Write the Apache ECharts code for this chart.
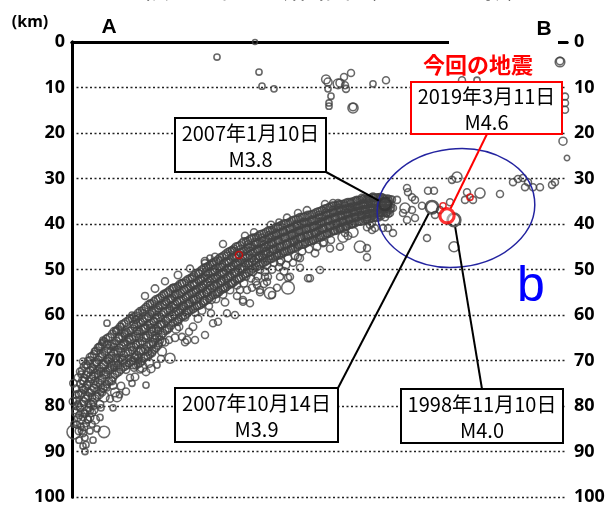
<!DOCTYPE html>
<html><head><meta charset="utf-8">
<script src="https://cdn.jsdelivr.net/npm/echarts/dist/echarts.min.js"></script>
<style>html,body{margin:0;padding:0;background:#fff}#c{width:609px;height:507px}</style>
</head><body><div id="c"></div>
<script>
// ---- data: [distance along A-B (arbitrary km), depth km, magnitude] ----
const depthTicks = [0,10,20,30,40,50,60,70,80,90,100];
const slabDeep = [
[0.3,75,2],[0.8,77.5,1.8],[0.2,79,2],[1.2,79.5,1.5],[0.6,81,1.5],[1.5,82,2],[0.4,84,1.5],[0.4,85.7,4.5],[1.8,84.5,1.5],[2.2,86,1.8],[1.4,87.5,1.5],[2.6,87,1.5],[2.2,88.8,1.5],[2.8,88.5,1.5],[2.6,90,1.5],
[1.8,73,1.5],[2.4,74.5,2],[2,76,1.8],[3,75.5,2],[2.6,78,2.5],[3.4,77,1.8],[3.2,79.5,1.5],[4,78,2],[3.6,81,1.8],[4.4,80,1.5],[2.4,81.5,1.5],[3.2,83,1.8],[4,84,1.5],[4.6,83,2.5],[5,85,1.5],[3.6,85.5,1.5],[4.2,87.5,1.5],[6.4,85.7,3.5],[5.6,82.5,1.5],[5.8,80.4,1.5],
[3,71,1.5],[3.6,70,2],[2.2,70.2,1.8],[4.2,72,2],[4.8,70.5,1.5],[3.8,73.5,2.5],[4.6,74.5,2],[5.2,73,1.8],[5.6,75,2],[5,76.5,1.5],[6,77,2],[6.4,78,3],[7,76,1.5],[4.5,68,1.5],[5.4,67,1.8],[6,69,2],[6.4,71,2.5],[5.8,72.5,2],[6.8,73,1.8],[7.2,70,1.5],[7.6,72,2],[8,74.5,2],[8.6,77,2.5],[9,78,2.8],[9.5,77.5,1.5],[8.2,75.5,2],[8.2,80.4,1.5],
[6.2,65.5,1.5],[7,66.5,2],[7,61.8,1.5],[7.8,68,2],[8.4,67,1.8],[8.8,69.5,2],[9.2,71,2],[8.4,71.5,1.5],[9.8,68,2],[10.2,70,2.5],[10.8,72,2],[11.2,69.5,1.5],[10.4,66,1.8],[9.4,65,2],[8.8,63.5,1.5],[9.8,62.5,1.5],[10.6,64,2],[11.4,65,2],[11.8,67,2],[12.2,71,2],[12.6,69,1.5],[12.8,66.5,1.8],[6,66,1.5],[12,75,1.5]
];
const slabDeepFill = [
[0.8,76.2,2],[0.9,78.8,1.8],[0.7,81.5,2],[1.0,84.1,1.8],
[1.6,72.4,1.8],[1.7,75.1,2],[1.5,77.6,2.2],[1.6,80.3,1.8],[1.8,83,2],
[2.4,71.3,2],[2.5,73.8,1.8],[2.3,76.4,2],[2.4,79,2],[2.6,81.7,1.8],[2.4,84.6,2],
[3.2,70.1,2],[3.3,72.6,2.2],[3.1,75.2,1.8],[3.2,77.8,2],[3.4,80.4,2],[3.2,82.9,1.8],
[4.0,69,2],[4.1,71.5,1.8],[3.9,74,2],[4.0,76.6,2.2],[4.2,79.1,1.8],[4.0,81.5,2],
[4.8,67.9,2],[4.9,70.4,2],[4.7,72.9,2.5],[4.8,75.4,1.8],[5.0,77.9,2],
[5.6,66.9,1.8],[5.7,69.3,2],[5.5,71.8,2],[5.6,74.3,2.2],[5.8,76.8,1.8],
[6.4,65.9,2],[6.5,68.3,1.8],[6.3,70.8,2],[6.4,73.2,2],[6.6,75.7,2],
[7.2,65,2],[7.3,67.4,2.2],[7.1,69.8,2],[7.2,72.2,1.8],[7.4,74.6,2],
[8.0,64.2,2],[8.1,66.5,2],[7.9,68.9,1.8],[8.0,71.3,2.2],[8.2,73.7,2],
[8.8,63.4,1.8],[8.9,65.7,2],[8.7,68.1,2],[8.8,70.5,2],[9.0,72.8,1.8],
[9.6,62.6,2],[9.7,64.9,2.2],[9.5,67.3,2],[9.6,69.7,1.8],[9.8,72,2],
[10.4,61.9,2],[10.5,64.2,1.8],[10.3,66.6,2],[10.4,68.9,2.2],[10.6,71.3,2],
[11.2,61.2,1.8],[11.3,63.5,2],[11.1,65.9,2],[11.2,68.2,2],[11.4,70.6,1.8],
[12.0,60.8,2],[12.1,63,2],[11.9,65.3,2.2],[12.0,67.7,1.8],[12.2,70,2]
];
const slabMid = [
[12,60,1.5],[12.4,62,2],[13,63.5,2],[12.8,61,1.8],[13.4,65,2],[13.8,67.5,2.5],[13.2,69.5,2],[13.6,72,1.8],[14.2,61.5,2],[14.6,63,2.2],[14.2,59.5,1.5],[14.8,65,2],[15.2,68,2],[15.4,70.5,2.5],[14.8,72.5,2],[14,71.4,3],[13.4,70,1.5],[14.8,75.4,1.5],
[15.6,57.5,1.8],[16,59.5,2],[16.4,61.5,2],[15.8,63,2.5],[16.6,64.5,2],[16.2,66.5,1.8],[16,68.4,1.8],[17,60,2],[17.4,58,1.5],[17.8,62,2],[17.2,63.5,2],[17.6,65.5,2],[17.4,66.2,1.8],[18,68,2.5],[17,71,1.5],[18.6,66,2],[19,63,2],[19.2,61,2],[19.6,59,2],[18.8,57,2],[18.4,55.5,1.8],[19.8,56.5,2],[19.6,69.5,3],[19.4,65.5,1.8],
[20.2,54,1.8],[20.6,55.5,2],[21,57,2],[20.4,58.5,2],[21.4,59.5,2],[21.2,61.5,2],[20.8,63,2.5],[22,53,2],[22.4,54.5,2],[22.8,56,2],[22.2,58,2.2],[23,59,2],[22.6,60.5,2],[23.4,57.5,2],[24,52,1.8],[24.4,53.5,2],[24.8,55,2],[24.2,56.5,2],[25,58,2],[24.6,59.5,1.8],[25.4,51,2],[25.8,52.5,2],[26.2,54,2],[25.6,55.5,2],[26.4,57,2.2],[26,59,2],[26.8,50.5,2],[27.2,52,2],[27.6,53.5,2],[27,55,2],[27.8,56.5,2.5],[27.4,58,1.8],
[28.2,49,2],[28.6,50.5,2],[29,52,2],[28.4,53.5,2],[29.2,55,2],[28.8,56.5,2],[29.6,48,1.8],[30,49.5,2],[30.4,51,2],[29.8,52.5,2],[30.6,54,2],[30.2,55.5,2],[31,47,2],[31.4,48.5,2],[31.8,50,2],[31.2,51.5,2],[32,53,2],[31.6,54.5,2],[32.4,46,2],[32.8,47.5,2],[33.2,49,2],[32.6,50.5,2],[33.4,52,2],[33,53.5,1.8],[33.8,45.5,2],[34.2,47,2],[34.6,48.5,2],[34,50,2],[34.8,51.5,2],[34.4,53,2],[30.2,44.4,1.8],[32,45.7,1.8],[26.6,48.6,1.8],[27.6,47.5,1.5]
];
const slabMidFill = [
[12.4,60.4,2],[12.5,62.6,1.8],[12.3,64.9,2],[12.4,67.1,2.2],[12.6,69.4,2],[12.4,71.6,1.8],
[13.2,59.6,2],[13.3,61.8,2],[13.1,64.1,1.8],[13.2,66.3,2],[13.4,68.2,2.2],[13.2,70.8,2],
[14.0,59,1.8],[14.1,61.2,2],[13.9,63.3,2],[14.0,65.7,2],[14.2,67.9,1.8],[14.0,70.1,2],
[14.8,58.3,2],[14.9,60.6,2.2],[14.7,62.8,2],[14.8,64.6,1.8],[15.0,66.9,2],[14.8,69.2,2],
[15.6,57.6,2],[15.7,59.8,1.8],[15.5,62,2],[15.6,64.2,2],[15.8,66.4,2.2],[15.6,68.6,1.8],
[16.4,57,2],[16.5,59.1,2],[16.3,61.3,1.8],[16.4,63.5,2],[16.6,65.4,2],[16.4,67.6,2],
[17.2,56.4,1.8],[17.3,58.5,2],[17.1,60.7,2.2],[17.2,62.6,2],[17.4,64.8,1.8],[17.2,66.7,2],
[18.0,55.8,2],[18.1,57.8,2],[17.9,59.9,2],[18.0,62.1,1.8],[18.2,64,2],[18.0,65.9,2.2],
[18.8,55.2,2],[18.9,57.2,1.8],[18.7,59.3,2],[18.8,61.3,2],[19.0,63.3,2],
[19.6,54.6,2.2],[19.7,56.6,2],[19.5,58.6,1.8],[19.6,60.4,2],[19.8,62.3,2],
[20.4,54,2],[20.5,55.9,2],[20.3,57.8,2],[20.4,59.8,2.2],[20.6,61.6,1.8],
[21.2,53.6,1.8],[21.3,55.4,2],[21.1,57.2,2],[21.2,59.1,2],[21.4,60.9,2],
[22.0,53.1,2],[22.1,54.9,2.2],[21.9,56.8,2],[22.0,58.6,1.8],[22.2,60.3,2],
[22.8,52.5,2],[22.9,54.3,2],[22.7,56.1,1.8],[22.8,57.9,2],[23.0,59.6,2.2],
[23.6,51.9,1.8],[23.7,53.7,2],[23.5,55.5,2],[23.6,57.2,2],[23.8,58.9,2],
[24.4,51.3,2],[24.5,53.1,2],[24.3,54.9,2.2],[24.4,56.7,2],[24.6,58.4,1.8],
[25.2,50.7,2],[25.3,52.5,1.8],[25.1,54.3,2],[25.2,56.1,2],[25.4,57.9,2],
[26.0,50.1,2.2],[26.1,51.9,2],[25.9,53.7,2],[26.0,55.5,1.8],[26.2,57.3,2],
[26.8,49.5,2],[26.9,51.3,2],[26.7,53.1,2],[26.8,54.9,2.2],[27.0,56.7,2],
[27.6,48.9,1.8],[27.7,50.7,2],[27.5,52.5,2],[27.6,54.3,2],[27.8,56,1.8],
[28.4,48.4,2],[28.5,50.1,2.2],[28.3,51.9,2],[28.4,53.7,2],[28.6,55.5,2],
[29.2,47.8,2],[29.3,49.6,2],[29.1,51.4,1.8],[29.2,53.1,2],[29.4,54.9,2.2],
[30.0,47.2,2],[30.1,49,1.8],[29.9,50.8,2],[30.0,52.6,2],[30.2,54.3,2],
[30.8,46.6,2.2],[30.9,48.4,2],[30.7,50.2,2],[30.8,52,2],[31.0,53.8,1.8],
[31.6,46,2],[31.7,47.8,2],[31.5,49.6,2.2],[31.6,51.4,2],[31.8,53.2,2],
[32.4,45.4,1.8],[32.5,47.2,2],[32.3,49,2],[32.4,50.8,2],[32.6,52.6,2],
[33.2,44.9,2],[33.3,46.7,2.2],[33.1,48.4,2],[33.2,50.2,1.8],[33.4,52,2],
[34.0,44.3,2],[34.1,46.1,2],[33.9,47.9,2],[34.0,49.6,2.2],[34.2,51.4,2],
[34.8,43.8,1.8],[34.9,45.6,2],[34.7,47.3,2],[34.8,49,2],[35.0,50.8,2]
];
const slabUpper = [
[35.2,44.5,2],[35.6,46,2],[36,47.5,2],[35.4,49,2],[36.2,50.5,2],[35.8,52,1.8],[36.6,44,2],[37,45.5,2],[37.4,47,2],[36.8,48.5,2],[37.6,50,2],[37.2,51.5,2],[38,43,2],[38.4,44.5,2],[38.8,46,2],[38.2,47.5,2],[39,49,2],[38.6,50.5,2],[39.4,42.5,2],[39.8,44,2],[40.2,45.5,2],[39.6,47,2],[40.4,48.5,2],[40,50,2],[40.8,42,2],[41.2,43.5,2],[41.6,45,2],[41,46.5,2],[41.8,48,2],[41.4,49.5,1.8],[42.2,41.5,2],[42.6,43,2],[43,44.5,2],[42.4,46,2],[43.2,47.5,2],[42.8,49,2],[43.6,41,2],[44,42.5,2],[44.4,44,2],[43.8,45.5,2],[44.6,47,2],[44.2,48.5,1.8],[45,40,2],[45.4,41.5,2],[45.8,43,2],[45.2,44.5,2],[46,46,2],[45.6,47.5,1.8],[46.4,39.5,2],[46.8,41,2],[47.2,42.5,2],[46.6,44,2],[47.4,45.5,2],[48,39,2],[48.4,40.5,2],[48.8,42,2],[48.2,43.5,2],[49,45,2],[49.4,38,2],[49.8,39.5,2],[50.2,41,2],[49.6,42.5,2],[50.4,44,2],[50.8,37.5,2],[51.2,39,2],[51.6,40.5,2],[51,42,2],[51.8,43.5,1.8],[52.2,37,2],[52.6,38.5,2],[53,40,2],[52.4,41.5,2],[53.4,36.5,2],[53.8,38,2],[54.2,39.5,2],[53.6,41,2],[54.6,36,2],[55,37.5,2],[55.4,39,2],[54.8,40.5,2],[55.8,35.5,2],[56.2,37,2],[56.6,38.5,2],[56,40,1.8],[57,35,2],[57.4,36.5,2],[57.8,38,2],[58.2,35.5,2],[58.6,37,2],[59,38.5,2],[59.4,35,2],[59.8,36.5,2.5],[60.2,38,2],[60.6,35.5,2],[61,37,2],[61.6,34.5,2],[62,36,2],[61.4,38,1.8],[62.8,37.5,2],[63.4,35,2],[63.8,36.5,2],
[45.2,37.6,1.8],[52.2,35.4,1.8],[53.2,35.4,1.8],[55.6,36.3,1.8],[58,34.3,2],[59,34.7,2],[60.2,34,2],[62,34.3,2.5],[63,37.6,1.8],[61.6,37.6,1.8],[59,39.1,1.8],[64,34.6,1.8],[64.2,36.5,1.8],
[65,34.7,1.8],[63.6,37.6,1.8],[62.6,38.5,1.8],[63.2,40.9,1.8],[64.2,42,1.8],[62.2,40.9,1.8],[60,39.8,1.8],[59,40.7,1.8],[60,41.3,1.8],[59,45.3,1.8]
];
const slabUpperFill = [
[35.6,43.4,2],[35.7,45.1,2],[35.5,46.8,1.8],[35.6,48.5,2],[35.8,50.2,2.2],
[36.4,43,2],[36.5,44.6,2],[36.3,46.3,2],[36.4,48,2],[36.6,49.6,1.8],
[37.2,42.6,1.8],[37.3,44.2,2.2],[37.1,45.8,2],[37.2,47.5,2],[37.4,49.1,2],
[38.0,42.2,2],[38.1,43.8,2],[37.9,45.4,2],[38.0,47,1.8],[38.2,48.6,2],
[38.8,41.8,2],[38.9,43.4,1.8],[38.7,45,2.2],[38.8,46.5,2],[39.0,48.1,2],
[39.6,41.4,2],[39.7,43,2],[39.5,44.6,2],[39.6,46.1,2],[39.8,47.7,1.8],
[40.4,41,1.8],[40.5,42.6,2],[40.3,44.2,2],[40.4,45.7,2.2],[40.6,47.2,2],
[41.2,40.6,2],[41.3,42.2,2],[41.1,43.7,1.8],[41.2,45.3,2],[41.4,46.8,2],
[42.0,40.2,2.2],[42.1,41.8,2],[41.9,43.3,2],[42.0,44.9,2],[42.2,46.4,1.8],
[42.8,39.9,2],[42.9,41.4,2],[42.7,42.9,2.2],[42.8,44.5,2],[43.0,46,2],
[43.6,39.5,1.8],[43.7,41,2],[43.5,42.5,2],[43.6,44.1,2],[43.8,45.6,2],
[44.4,39.1,2],[44.5,40.6,2.2],[44.3,42.1,2],[44.4,43.7,1.8],[44.6,45.2,2],
[45.2,38.8,2],[45.3,40.3,2],[45.1,41.8,2],[45.2,43.3,2.2],[45.4,44.8,2],
[46.0,38.5,2],[46.1,40,1.8],[45.9,41.5,2],[46.0,43,2],[46.2,44.5,2],
[46.8,38.3,2.2],[46.9,39.7,2],[46.7,41.2,2],[46.8,42.7,1.8],[47.0,44.1,2],
[47.6,38,2],[47.7,39.5,2],[47.5,40.9,2.2],[47.6,42.4,2],[47.8,43.8,2],
[48.4,37.7,1.8],[48.5,39.2,2],[48.3,40.6,2],[48.4,42,2],[48.6,43.4,1.8],
[49.2,37.3,2],[49.3,38.8,2.2],[49.1,40.2,2],[49.2,41.6,2],[49.4,43,2],
[50.0,37,2],[50.1,38.4,2],[49.9,39.8,1.8],[50.0,41.2,2],[50.2,42.6,2.2],
[50.8,36.6,2],[50.9,38,2],[50.7,39.4,2],[50.8,40.8,2.2],[51.0,42.2,1.8],
[51.6,36.3,2.2],[51.7,37.7,2],[51.5,39.1,2],[51.6,40.5,2],[51.8,41.8,2],
[52.4,36,2],[52.5,37.4,1.8],[52.3,38.8,2],[52.4,40.2,2],[52.6,41.5,2],
[53.2,35.8,2],[53.3,37.1,2],[53.1,38.5,2.2],[53.2,39.8,2],[53.4,41.1,1.8],
[54.0,35.6,1.8],[54.1,36.9,2],[53.9,38.2,2],[54.0,39.5,2],[54.2,40.8,2],
[54.8,35.4,2],[54.9,36.7,2.2],[54.7,38,2],[54.8,39.2,2],[55.0,40.4,2],
[55.6,35.2,2],[55.7,36.5,2],[55.5,37.7,1.8],[55.6,38.9,2],[55.8,40.1,2],
[56.4,35,2],[56.5,36.2,2],[56.3,37.4,2],[56.4,38.6,2.2],[56.6,39.8,2],
[57.2,34.8,2.2],[57.3,36,2],[57.1,37.2,2],[57.2,38.4,2],[57.4,39.5,1.8],
[58.0,34.6,2],[58.1,35.8,2],[57.9,37,2],[58.0,38.1,2],[58.2,39.3,2],
[58.8,34.5,1.8],[58.9,35.7,2],[58.7,36.8,2.2],[58.8,37.9,2],[59.0,39,2],
[59.6,34.4,2],[59.7,35.5,2],[59.5,36.6,2],[59.6,37.7,2],[59.8,38.8,1.8],
[60.4,34.3,2],[60.5,35.4,2.2],[60.3,36.5,2],[60.4,37.6,2],[60.6,38.6,2],
[61.2,34.2,2],[61.3,35.3,2],[61.1,36.4,1.8],[61.2,37.5,2],[61.4,38.5,2],
[62.0,34.3,2.2],[62.1,35.4,2],[61.9,36.5,2],[62.0,37.5,2],
[62.8,34.5,2],[62.9,35.6,2],[62.7,36.6,2],[62.8,37.6,1.8],
[63.6,34.6,2],[63.7,35.7,2],[63.5,36.8,2.2]
];
const slabGapFill = [
[1.2,73.8,2],[1.3,77.3,1.8],[1.1,80,2.2],[1.2,82.6,1.8],[1.4,85.5,2],
[2.0,72.2,1.8],[2.1,74.4,2],[1.9,77.2,2],[2.0,79.7,2.5],[2.2,82.4,1.8],[2.0,85.4,2],
[2.8,70.9,2],[2.9,73.2,2],[2.7,76.1,1.8],[2.8,78.5,2.2],[3.0,80.9,2],[2.8,83.8,1.8],
[3.6,69.3,2],[3.7,72.2,1.8],[3.5,74.6,2],[3.6,77.1,2],[3.8,79.7,2.2],[3.6,82.5,2],
[4.4,68.6,1.8],[4.5,70.8,2],[4.3,73.4,2.2],[4.4,76.1,2],[4.6,78.3,1.8],[4.4,80.9,2],
[5.2,67.2,2],[5.3,69.9,2],[5.1,72.2,1.8],[5.2,74.8,2],[5.4,77.4,2.5],
[6.0,66.5,2],[6.1,68.6,1.8],[5.9,71.4,2],[6.0,73.9,2],[6.2,76.1,2],
[6.8,65.2,1.8],[6.9,67.9,2.2],[6.7,70.3,2],[6.8,72.5,2],[7.0,75.2,1.8],
[7.6,64.8,2],[7.7,66.8,2],[7.5,69.5,1.8],[7.6,71.6,2],[7.8,74.3,2.2],
[8.4,63.6,2],[8.5,66.2,1.8],[8.3,68.4,2],[8.4,71,2],[8.6,73.1,2],
[9.2,63.1,1.8],[9.3,65.2,2],[9.1,67.8,2.2],[9.2,70,2],[9.4,72.5,1.8],
[10.0,62.1,2],[10.1,64.7,2],[9.9,66.8,2],[10.0,69.4,1.8],[10.2,71.5,2],
[10.8,61.6,2.2],[10.9,63.8,2],[10.7,66.3,1.8],[10.8,68.5,2],[11.0,71,2],
[11.6,60.8,2],[11.7,63.4,1.8],[11.5,65.5,2],[11.6,68,2.2],[11.8,70.2,2],
[12.8,60.1,1.8],[12.9,62.1,2],[12.7,64.6,2],[12.8,66.6,2],[13.0,68.9,2.2],[12.8,71.1,1.8],
[13.6,59.2,2],[13.7,61.6,2],[13.5,63.6,1.8],[13.6,66.1,2],[13.8,67.9,2],[13.6,70.5,2],
[14.4,58.7,2],[14.5,60.8,1.8],[14.3,63.1,2.2],[14.4,65,2],[14.6,67.5,2],[14.4,69.5,1.8],
[15.2,57.8,2],[15.3,60.3,2],[15.1,62.3,2],[15.2,64.5,2.2],[15.4,66.5,1.8],[15.2,69,2],
[16.0,57.4,1.8],[16.1,59.3,2],[15.9,61.7,2],[16.0,63.7,2],[16.2,66,2],[16.0,68,2.2],
[16.8,56.6,2],[16.9,58.9,2.2],[16.7,60.9,2],[16.8,63.1,1.8],[17.0,65,2],[16.8,67.2,2],
[17.6,56.2,2],[17.7,58,1.8],[17.5,60.4,2],[17.6,62.2,2],[17.8,64.5,2.2],
[18.4,55.4,2],[18.5,57.6,2],[18.3,59.5,2],[18.4,61.8,1.8],[18.6,63.5,2],
[19.2,55,2.2],[19.3,56.8,2],[19.1,59,1.8],[19.2,60.7,2],[19.4,62.9,2],
[20.0,54.2,2],[20.1,56.3,2],[19.9,58.1,2],[20.0,60.2,2.2],[20.2,61.8,1.8],
[20.8,53.9,1.8],[20.9,55.5,2],[20.7,57.6,2],[20.8,59.3,2],[21.0,61.3,2],
[21.6,53.2,2],[21.7,55.2,2.2],[21.5,56.9,2],[21.6,58.9,1.8],[21.8,60.5,2],
[22.4,52.9,2],[22.5,54.5,2],[22.3,56.5,1.8],[22.4,58.1,2],[22.6,60,2.2],
[23.2,52.1,1.8],[23.3,54.1,2],[23.1,55.7,2],[23.2,57.6,2],[23.4,59.1,2],
[24.0,51.7,2],[24.1,53.3,2.2],[23.9,55.3,2],[24.0,56.8,1.8],[24.2,58.7,2],
[24.8,50.9,2],[24.9,52.9,2],[24.7,54.5,2],[24.8,56.5,2.2],[25.0,58,1.8],
[25.6,50.5,2.2],[25.7,52.1,2],[25.5,54.1,2],[25.6,55.7,2],[25.8,57.7,2],
[26.4,49.7,2],[26.5,51.7,1.8],[26.3,53.3,2],[26.4,55.3,2],[26.6,56.9,2.2],
[27.2,49.3,2],[27.3,50.9,2],[27.1,52.9,2.2],[27.2,54.5,2],[27.4,56.4,1.8],
[28.0,48.5,1.8],[28.1,50.5,2],[27.9,52.1,2],[28.0,54.1,2],[28.2,55.6,2],
[28.8,48.2,2],[28.9,49.7,2.2],[28.7,51.7,2],[28.8,53.3,1.8],[29.0,55.3,2],
[29.6,47.4,2],[29.7,49.4,2],[29.5,51,2],[29.6,52.9,2.2],[29.8,54.5,2],
[30.4,47,2.2],[30.5,48.6,2],[30.3,50.6,1.8],[30.4,52.2,2],[30.6,54.1,2],
[31.2,46.2,2],[31.3,48.2,2],[31.1,49.8,2],[31.2,51.8,2.2],[31.4,53.4,1.8],
[32.0,45.8,1.8],[32.1,47.4,2],[31.9,49.4,2],[32.0,51,2],[32.2,52.9,2],
[32.8,45,2],[32.9,47,2.2],[32.7,48.6,2],[32.8,50.6,1.8],[33.0,52.2,2],
[33.6,44.7,2],[33.7,46.3,2],[33.5,48.2,2],[33.6,49.8,2.2],[33.8,51.8,2],
[34.4,43.9,2.2],[34.5,45.9,2],[34.3,47.5,1.8],[34.4,49.4,2],[34.6,51,2],
[35.2,43.7,2],[35.3,45.2,2],[35.1,47.1,2.2],[35.2,48.6,2],[35.4,50.6,1.8],
[36.0,43.1,2],[36.1,45,1.8],[35.9,46.4,2],[36.0,48.3,2],[36.2,49.8,2],
[36.8,42.9,1.8],[36.9,44.3,2],[36.7,46.1,2.2],[36.8,47.6,2],[37.0,49.4,2],
[37.6,42.3,2],[37.7,44.1,2],[37.5,45.5,2],[37.6,47.3,1.8],[37.8,48.7,2.2],
[38.4,42.1,2],[38.5,43.5,2.2],[38.3,45.3,2],[38.4,46.6,2],[38.6,48.4,1.8],
[39.2,41.5,2],[39.3,43.3,2],[39.1,44.7,1.8],[39.2,46.4,2],[39.4,47.8,2],
[40.0,41.3,1.8],[40.1,42.7,2],[39.9,44.5,2],[40.0,45.8,2.2],[40.2,47.5,2],
[40.8,40.7,2],[40.9,42.5,2],[40.7,43.8,2.2],[40.8,45.6,2],[41.0,46.9,1.8],
[41.6,40.5,2.2],[41.7,41.9,2],[41.5,43.6,2],[41.6,45,1.8],[41.8,46.7,2],
[42.4,39.9,2],[42.5,41.7,1.8],[42.3,43,2],[42.4,44.8,2],[42.6,46.1,2.2],
[43.2,39.8,2],[43.3,41.1,2],[43.1,42.8,2.2],[43.2,44.2,2],[43.4,45.9,2],
[44.0,39.2,1.8],[44.1,40.9,2],[43.9,42.2,2],[44.0,44,2],[44.2,45.3,2],
[44.8,39,2],[44.9,40.3,2.2],[44.7,42,2],[44.8,43.4,1.8],[45.0,45.1,2],
[45.6,38.5,2],[45.7,40.2,2],[45.5,41.5,1.8],[45.6,43.2,2],[45.8,44.5,2.2],
[46.4,38.5,2.2],[46.5,39.7,2],[46.3,41.4,2],[46.4,42.7,2],[46.6,44.4,1.8],
[47.2,38,2],[47.3,39.7,1.8],[47.1,40.9,2],[47.2,42.6,2.2],[47.4,43.8,2],
[48.0,37.9,2],[48.1,39.2,2],[47.9,40.8,2.2],[48.0,42.1,2],[48.2,43.7,1.8],
[48.8,37.4,1.8],[48.9,39.1,2],[48.7,40.3,2],[48.8,41.9,2],[49.0,43.1,2],
[49.6,37.2,2],[49.7,38.5,2.2],[49.5,40.1,2],[49.6,41.3,1.8],[49.8,42.9,2],
[50.4,36.7,2],[50.5,38.3,2],[50.3,39.5,1.8],[50.4,41.1,2],[50.6,42.3,2.2],
[51.2,36.5,2.2],[51.3,37.7,2],[51.1,39.3,2],[51.2,40.5,2],[51.4,42.1,1.8],
[52.0,36,2],[52.1,37.6,1.8],[51.9,38.8,2],[52.0,40.4,2.2],[52.2,41.5,2],
[52.8,36,2],[52.9,37.1,2],[52.7,38.7,2.2],[52.8,39.9,2],[53.0,41.4,1.8],
[53.6,35.6,1.8],[53.7,37.1,2],[53.5,38.2,2],[53.6,39.7,2],[53.8,40.8,2],
[54.4,35.6,2],[54.5,36.7,2.2],[54.3,38.2,2],[54.4,39.2,1.8],[54.6,40.7,2],
[55.2,35.2,2],[55.3,36.7,2],[55.1,37.7,2],[55.2,39.1,2.2],[55.4,40.1,2],
[56.0,35.2,2.2],[56.1,36.2,2],[55.9,37.6,1.8],[56.0,38.6,2],[56.2,40,2],
[56.8,34.8,2],[56.9,36.2,1.8],[56.7,37.2,2],[56.8,38.6,2],[57.0,39.5,2.2],
[57.6,34.8,2],[57.7,35.8,2],[57.5,37.2,2.2],[57.6,38.1,2],[57.8,39.5,1.8],
[58.4,34.4,1.8],[58.5,35.8,2],[58.3,36.8,2],[58.4,38.1,2],[58.6,39,2],
[59.2,34.5,2],[59.3,35.5,2.2],[59.1,36.8,2],[59.2,37.7,1.8],[59.4,39,2],
[60.0,34.2,2],[60.1,35.5,2],[59.9,36.4,1.8],[60.0,37.7,2],[60.2,38.6,2.2],
[60.8,34.3,2.2],[60.9,35.2,2],[60.7,36.5,2],[60.8,37.4,2],[61.0,38.6,1.8],
[61.6,34.1,2],[61.7,35.4,1.8],[61.5,36.3,2],[61.6,37.5,2],[61.8,38.2,2],
[62.4,34.5,2],[62.5,35.4,2.2],[62.3,36.6,2],[62.4,37.4,2],
[63.2,34.4,1.8],[63.3,35.7,2],[63.1,36.6,2],[63.2,37.7,2.2]
];
const edgeScatter = [
[14.6,55.8,1.8],[16.6,54.2,2],[18.6,52.6,1.8],[21.2,51.2,2],[23.6,49.8,1.8],[26.6,48.2,2],[28.6,47.2,1.8],[36.4,41.8,1.8],[39.8,40.2,2],[43,38.6,1.8],[47,37,2],[50.6,35.6,1.8],[41.4,39.6,1.5],[34.6,42.6,1.8],
[12.6,73.6,2],[15.8,71.8,2.2],[17.8,69.6,1.8],[20.6,65,2],[25.2,60.8,2],[27.8,59.6,1.8],[30.6,57.2,2],[33,55.8,1.8],[36.8,52.6,2],[38.4,53.2,1.8],[42.4,50.4,2],[45.6,49.6,1.8],[48.6,46.4,2],[51.6,45.4,1.8],[55.2,42.6,2],[11.6,73.8,1.8],[9.8,75.6,2],[7.6,78.4,1.8],[5.6,79.6,2],[10.8,76.8,1.8]
];
const scatterBelow = [
[22,64.8,1.8],[23,65.5,2],[23.4,63.7,1.8],[21.4,62.6,2],[22.6,66,1.8],[24.6,65.5,1.8],[26.6,64.4,1.8],[28.2,61.8,1.8],[29.2,61.5,1.8],[24.2,62.6,2],[31,59.6,1.8],[32.6,60,1.8],[34.2,57.1,1.8],[35.6,57.4,1.8],[34.2,56.7,1.8],[33.6,54.5,1.8],[39.6,55.2,3.5],[39,52.7,1.8],[37.6,54.5,1.8],[37,53.4,1.8],[41,54,1.8],[39.2,51.6,1.8],[41.6,51.6,1.8],[43.2,51.8,1.8],[43.2,54,4],[40,55.6,1.8],[37.6,55,1.8],[36,54,1.8],[35,54.5,1.8],[47.2,51.9,1.8],[45.2,47.3,1.8],[41.6,48.4,1.8],[57.6,45,3.5],[59,47.3,1.8],[53.6,45,1.8],[49.6,50.1,1.8],[47.6,51.9,1.8],[43.6,51.6,1.8],[38.6,51.6,1.8],[56.2,41.8,3],[54.6,42,1.8],[50.2,44.2,1.8],[59.6,40.2,1.8],[60.6,40.9,1.8],[54.2,42.9,3]
];
const regionBPoints = [
[67,32.1,1.8],[67.2,33,1.8],[68,34.1,1.8],[68.6,34.7,1.8],[70,36,1.8],[66.6,36.5,3],[66.2,37.6,1.8],[68,36.9,1.8],[67,39.1,1.8],[68.6,38.7,1.8],[72.6,38,1.8],[73.6,36.9,1.8],[75.6,35.2,1.8],[71,43.1,1.8],[76.4,45,3],[71.2,32.7,1.8],[72.4,32.7,1.8],[76,30.3,1.8],[77,29.7,3],[81.6,33.2,3],[79,33,1.8],[78.6,34.7,1.8],[80.2,34.7,1.8],[85.6,33.4,1.8],[88.2,30.8,1.8],[89.2,30.1,1.8],[90.2,29.9,1.8],[91.2,30.8,1.8],[90.6,31.9,1.8],[92.2,31.9,1.8],[93.6,31.9,1.8],[96,31.4,1.8],[96.6,30.8,1.8]
];
const shallowPoints = [
[29,3.3,1.5],[36.6,0,1],[37.4,6.6,1.5],[38,9.7,1.5],[40.4,10.3,1.5],[50.8,8.2,2.5],[51.2,8.8,2.2],[51.2,10.3,1.5],[51.8,11.9,1.5],[51.4,13.4,1.5],[51.4,14.1,1.5],[53.2,9.2,2.8],[53.6,9,2.2],[54.4,7.7,1.8],[55.8,6.8,1.8],[54.6,9.5,1.8],[54.8,10.3,1.8],[56.2,14.5,3],[56.2,14.3,2],[60.2,9.2,1.5],[62.8,8.4,1.8],[78,8.4,1.8],[81,8.4,1.5],[97.6,4.4,2.8],[97.6,4.2,2],[98.6,12,1.8],[98.6,13.4,1.8],[98.6,14.9,1.8],[98.2,21.8,2.2],[99,25.5,1.2]
];
const redSmall = [[33.4,46.8,1.8],[74.2,36,1.5],[79.6,34.1,1.5]];
const eventDates = ['2007年1月10日','2007年10月14日','1998年11月10日','2019年3月11日'];
const eventMags = [3.8,3.9,4.0,4.6];
const eventX = [62.6,72,76.4,75];
const eventDepth = [35.6,36.3,39.1,38.2];
const regionB = {label:'b', x:76.8, depth:36.5, halfWidth:15.8, halfDepth:13, tiltDeg:6.5};

// ---- layout / style ----
const sizeOf = m => 2.3 + 2.6*m;
const gray = {color:'rgba(0,0,0,0)', borderColor:'#424242', borderWidth:1.55};
function sc(data, style){
  return {type:'scatter', data:data, symbol:'circle', symbolSize:v=>sizeOf(v[2]), itemStyle:style, clip:false, silent:true, large:false, progressive:0};
}
const chart = echarts.init(document.getElementById('c'));
const axisLineS = {show:true, lineStyle:{color:'#000', width:3}};
const lblFont = {color:'#000', fontSize:18, fontWeight:'bold', fontFamily:'"Noto Sans", sans-serif'};
chart.setOption({
  animation:false,
  grid:{left:72, right:42, top:42, bottom:10},
  xAxis:[
    {type:'value', min:0, max:99, position:'bottom', axisLine:axisLineS, axisTick:{show:false}, axisLabel:{show:false}, splitLine:{show:false}},
    {type:'value', min:0, max:99, position:'top', axisLine:axisLineS, axisTick:{show:false}, axisLabel:{show:false}, splitLine:{show:false}}
  ],
  yAxis:[
    {type:'value', inverse:true, min:0, max:100, interval:10, position:'left', axisLine:axisLineS, axisTick:{show:false},
     axisLabel:Object.assign({margin:7}, lblFont), splitLine:{show:true, lineStyle:{color:'#222', width:1.3, type:[2,2.5]}}},
    {type:'value', inverse:true, min:0, max:100, interval:10, position:'right', axisLine:axisLineS, axisTick:{show:false},
     axisLabel:Object.assign({margin:7}, lblFont), splitLine:{show:false}}
  ],
  series:[
    sc(slabDeep, gray), sc(slabDeepFill, gray), sc(slabMid, gray), sc(slabMidFill, gray), sc(slabUpper, gray), sc(slabUpperFill, gray), sc(slabGapFill, gray),
    sc(edgeScatter, gray), sc(scatterBelow, gray), sc(regionBPoints, gray), sc(shallowPoints, gray),
    sc(redSmall, {color:'rgba(0,0,0,0)', borderColor:'#e00000', borderWidth:1.6}),
    sc([0,1,2].map(i=>[eventX[i], eventDepth[i], eventMags[i]]), {color:'rgba(0,0,0,0)', borderColor:'#333', borderWidth:2.6}),
    sc([[eventX[3], eventDepth[3], eventMags[3]]], {color:'rgba(255,255,255,0.6)', borderColor:'#ff0000', borderWidth:3.2})
  ]
});

// annotations
const boxes = [
  {l:175, t:118, w:151, h:54, ax:326, ay:172, border:'#000'},
  {l:175, t:388, w:163, h:54, ax:338, ay:388, border:'#000'},
  {l:401, t:389, w:162, h:54, ax:482, ay:389, border:'#000'},
  {l:411, t:82,  w:151, h:52, ax:487, ay:134, border:'#ff0000'}
];
const g = [];
boxes.forEach((b,i)=>{
  const p = chart.convertToPixel({xAxisIndex:0, yAxisIndex:0}, [eventX[i], eventDepth[i]]);
  const r = sizeOf(eventMags[i])/2 + 1;
  const dx = b.ax - p[0], dy = b.ay - p[1], L = Math.hypot(dx,dy);
  g.push({type:'line', z:50, shape:{x1:b.ax, y1:b.ay, x2:p[0]+dx/L*r, y2:p[1]+dy/L*r},
          style:{stroke: i===3 ? '#ff0000' : '#000', lineWidth:2}});
  g.push({type:'rect', z:60, shape:{x:b.l, y:b.t, width:b.w, height:b.h}, style:{fill:'#fff', stroke:b.border, lineWidth:2}});
  g.push({type:'text', z:61, x:b.l + b.w/2, y:b.t + b.h/2 + 1,
          style:{text:eventDates[i] + '\nM' + eventMags[i].toFixed(1), align:'center', verticalAlign:'middle',
                 font:'20px "Noto Sans CJK JP"', lineHeight:26, fill:'#000'}});
});
const c = chart.convertToPixel({xAxisIndex:0, yAxisIndex:0}, [regionB.x, regionB.depth]);
const c2 = chart.convertToPixel({xAxisIndex:0, yAxisIndex:0}, [regionB.x + regionB.halfWidth, regionB.depth + regionB.halfDepth]);
g.push({type:'ellipse', z:40, x:c[0], y:c[1], rotation:regionB.tiltDeg*Math.PI/180,
        shape:{cx:0, cy:0, rx:c2[0]-c[0], ry:c2[1]-c[1]}, style:{fill:'none', stroke:'#2323a0', lineWidth:1.5}});
g.push({type:'text', z:62, x:517, y:287, style:{text:regionB.label, align:'left', verticalAlign:'middle', font:'50px "Liberation Sans"', fill:'#0000ff'}});
g.push({type:'text', z:62, x:478, y:65, style:{text:'今回の地震', align:'center', verticalAlign:'middle', font:'bold 22px "Noto Sans CJK JP"', fill:'#ff0000'}});
g.push({type:'rect', z:70, shape:{x:449, y:38, width:109, height:8}, style:{fill:'#fff'}});
g.push({type:'text', z:62, x:30, y:22, style:{text:'(km)', align:'center', verticalAlign:'middle', font:'bold 16px "Noto Sans"', fill:'#000'}});
g.push({type:'text', z:62, x:109, y:27, style:{text:'A', align:'center', verticalAlign:'middle', font:'bold 21px "Liberation Sans"', fill:'#000'}});
g.push({type:'text', z:62, x:544, y:29, style:{text:'B', align:'center', verticalAlign:'middle', font:'bold 21px "Liberation Sans"', fill:'#000'}});
g.push({type:'text', z:62, x:338, y:1.5, style:{text:'領域ａ内の断面図（Ａ－Ｂ投影）', align:'center', verticalAlign:'bottom', font:'26px "Noto Sans CJK JP"', fill:'#000'}});
chart.setOption({graphic:g});
</script></body></html>
